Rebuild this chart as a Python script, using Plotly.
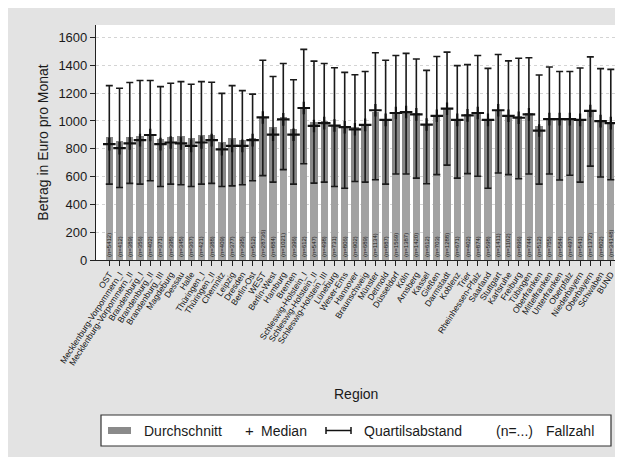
import plotly.graph_objects as go

regions = ["OST", "Mecklenburg-Vorpommern_I", "Mecklenburg-Vorpommern_II", "Brandenburg_I",
           "Brandenburg_II", "Brandenburg_III", "Magdeburg", "Dessau", "Halle", "Thüringen_I",
           "Thüringen_II", "Chemnitz", "Leipzig", "Dresden", "Berlin-Ost", "WEST", "Berlin-West",
           "Hamburg", "Bremen", "Schleswig-Holstein_I", "Schleswig-Holstein_II",
           "Schleswig-Holstein_III", "Lüneburg", "Weser-Ems", "Hannover", "Braunschweig",
           "Münster", "Detmold", "Düsseldorf", "Köln", "Arnsberg", "Kassel", "Gießen",
           "Darmstadt", "Koblenz", "Trier", "Rheinhessen-Pfalz", "Saarland", "Stuttgart",
           "Karlsruhe", "Freiburg", "Tübingen", "Oberfranken", "Mittelfranken", "Unterfranken",
           "Oberpfalz", "Niederbayern", "Oberbayern", "Schwaben", "BUND"]

mean = [882, 858, 887, 895, 906, 869, 887, 889, 877, 901,
        896, 852, 877, 862, 877, 1030, 960, 1028, 940, 1096,
        991, 999, 974, 967, 960, 979, 1064, 1015, 1057, 1072,
        1057, 974, 1045, 1088, 1015, 1047, 1064, 1015, 1081, 1045,
        1033, 1057, 967, 1015, 1015, 1015, 1011, 1077, 1003, 991]

median = [833, 804, 838, 862, 899, 833, 845, 838, 821, 845,
          862, 796, 821, 821, 862, 1025, 901, 1011, 901, 1093,
          964, 984, 967, 955, 940, 972, 1077, 1008, 1057, 1064,
          1047, 974, 1037, 1088, 1008, 1040, 1057, 1008, 1077, 1037,
          1023, 1047, 931, 1013, 1013, 1013, 1008, 1072, 999, 984]

q3 = [1254, 1235, 1276, 1291, 1291, 1247, 1271, 1283, 1264, 1283,
      1278, 1198, 1254, 1218, 1193, 1437, 1320, 1413, 1296, 1515,
      1430, 1413, 1383, 1349, 1332, 1356, 1490, 1437, 1471, 1486,
      1446, 1364, 1463, 1495, 1398, 1405, 1471, 1378, 1478, 1432,
      1451, 1454, 1330, 1388, 1356, 1356, 1381, 1461, 1376, 1371]

q1 = [546, 521, 551, 546, 570, 529, 546, 541, 529, 546,
      551, 529, 533, 541, 570, 607, 560, 650, 546, 692,
      553, 560, 529, 516, 565, 560, 577, 546, 619, 619,
      589, 548, 614, 682, 589, 621, 602, 516, 626, 614,
      584, 619, 546, 619, 575, 609, 560, 675, 597, 577]

fallzahl = [5412, 412, 389, 356, 402, 371, 398, 345, 367, 421,
            388, 409, 377, 395, 512, 28736, 884, 1021, 396, 612,
            547, 498, 731, 806, 902, 689, 1134, 887, 1569, 1387,
            1420, 612, 703, 1288, 671, 402, 874, 598, 1411, 1102,
            896, 744, 512, 755, 584, 497, 541, 1372, 802, 34148]

y_ticks = [0, 200, 400, 600, 800, 1000, 1200, 1400, 1600]

lower = [min(a, b) for a, b in zip(q1, mean)]
upper = [m - l for m, l in zip(mean, lower)]
n_text = ["(n=%d)" % n for n in fallzahl]

FONT = "Liberation Sans, Arial, Helvetica, sans-serif"
W, H = 623, 457
L, R, T, B = 88, 11, 17, 205

fig = go.Figure()
fig.add_trace(go.Bar(x=regions, y=lower, marker=dict(color="#a2a2a2", line=dict(width=0)),
                     width=0.72, text=n_text, textposition="inside", insidetextanchor="start",
                     textangle=-90, textfont=dict(size=6, color="#1a1a1a", family=FONT),
                     constraintext="none", showlegend=False, hoverinfo="skip"))
fig.add_trace(go.Bar(x=regions, y=upper, marker=dict(color="#888888", line=dict(width=0)),
                     width=0.72, showlegend=False, hoverinfo="skip"))
fig.add_trace(go.Scatter(
    x=regions, y=median, mode="markers",
    marker=dict(symbol="cross-thin", size=9, color="#111111", line=dict(width=2.2, color="#111111")),
    error_y=dict(type="data", symmetric=False,
                 array=[a - m for a, m in zip(q3, median)],
                 arrayminus=[m - b for m, b in zip(median, q1)],
                 thickness=1.6, width=3.5, color="#1a1a1a"),
    showlegend=False, hoverinfo="skip"))

fig.update_layout(
    width=W, height=H, barmode="stack",
    margin=dict(l=L, r=R, t=T, b=B),
    paper_bgcolor="#e3e3e3", plot_bgcolor="#ffffff",
    font=dict(family=FONT, color="#1a1a1a"),
    showlegend=False,
)
fig.update_xaxes(
    type="category", range=[-1.3, 49.9], tickangle=-57,
    tickmode="array", tickvals=regions, ticktext=regions,
    tickfont=dict(size=8.5, family=FONT, color="#111111"), ticks="outside", ticklen=5, tickcolor="#222",
    showline=True, linecolor="#222", linewidth=1.2, showgrid=False,
    title=None, automargin=False,
)
fig.update_yaxes(
    range=[0, 1690], tickvals=y_ticks, ticktext=[str(v) for v in y_ticks],
    tickfont=dict(size=13, family=FONT), ticks="outside", ticklen=5, tickcolor="#222",
    showline=True, linecolor="#222", linewidth=1.2,
    showgrid=True, gridcolor="#d4d4d4", griddash="dot", gridwidth=1, zeroline=False,
    title=dict(text="Betrag in Euro pro Monat", font=dict(size=14, family=FONT), standoff=6),
    automargin=False,
)

pw, ph = W - L - R, H - T - B

def px(x):
    return (x - L) / pw

def py(y):
    return (H - B - y) / ph

fig.add_annotation(text="Region", xref="paper", yref="paper", x=px(348), y=py(386),
                   showarrow=False, font=dict(size=14, family=FONT), xanchor="center", yanchor="middle")

# legend box
fig.add_shape(type="rect", xref="paper", yref="paper", x0=px(93), x1=px(603), y0=py(438), y1=py(407),
              line=dict(color="#333333", width=1.2), fillcolor="#ffffff")
fig.add_shape(type="rect", xref="paper", yref="paper", x0=px(100), x1=px(123), y0=py(426), y1=py(419),
              line=dict(width=0), fillcolor="#8a8a8a")
fig.add_shape(type="line", xref="paper", yref="paper", x0=px(318), x1=px(343), y0=py(422.5), y1=py(422.5),
              line=dict(color="#111", width=1.5))
fig.add_shape(type="line", xref="paper", yref="paper", x0=px(318), x1=px(318), y0=py(419), y1=py(426),
              line=dict(color="#111", width=1.5))
fig.add_shape(type="line", xref="paper", yref="paper", x0=px(343), x1=px(343), y0=py(419), y1=py(426),
              line=dict(color="#111", width=1.5))
legend_items = [("Durchschnitt", 134), ("+", 235), ("Median", 251), ("Quartilsabstand", 354),
                ("(n=...)", 486), ("Fallzahl", 536)]
for txt, xx in legend_items:
    fig.add_annotation(text=txt, xref="paper", yref="paper", x=px(xx), y=py(422.5), showarrow=False,
                       xanchor="left", yanchor="middle",
                       font=dict(size=14 if txt != "+" else 15, family=FONT, color="#1a1a1a"))

fig.write_html("out.html")
